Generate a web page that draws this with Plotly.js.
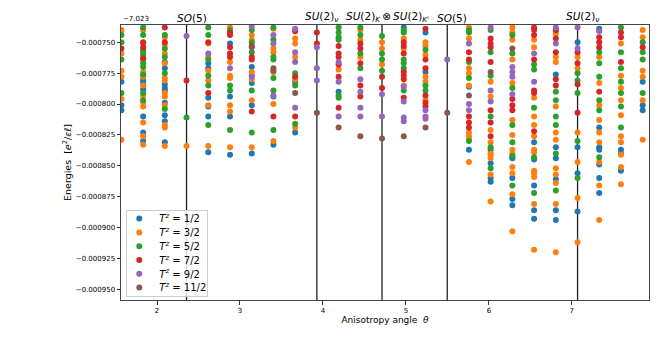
<!DOCTYPE html>
<html>
<head>
<meta charset="utf-8">
<script src="https://cdn.plot.ly/plotly-3.0.1.min.js"></script>
<style>
  body { margin: 0; background: #fff; }
  #canvas_div { width: 665px; height: 351px; }
</style>
</head>
<body>
<div id="canvas_div"></div>
<script>
// Energies are shown relative to an offset of -7.023, in units of 1e-6 e^2/(eps l)
var ENERGY_OFFSET = "\u22127.023";
var MICRO = 1e-6;

// anisotropy angles of the sampled columns
var theta = [1.571, 1.833, 2.094, 2.356, 2.618, 2.880, 3.142, 3.403, 3.665, 3.927,
             4.189, 4.451, 4.712, 4.974, 5.236, 5.498, 5.760, 6.021, 6.283, 6.545,
             6.807, 7.069, 7.330, 7.592, 7.854];

// symmetry points marked by vertical lines
var symTheta = [2.356, 3.927, 4.712, 5.498, 7.069];
var symLabels = [
  "<i>SO</i>(5)",
  "<i>SU</i>(2)<sub><i>\u03bd</i></sub>",
  "<i>SU</i>(2)<sub><i>K</i></sub>\u2009\u2297\u2009<i>SU</i>(2)<sub><i>K'</i></sub>",
  "<i>SO</i>(5)",
  "<i>SU</i>(2)<sub><i>\u03bd</i></sub>"
];

// one list of levels per theta column, for each T^z sector
var tz1_2 = [
  [-782,-801,-805],
  [-778,-781,-783,-788,-810,-823,-830],
  [-766,-771,-784,-787,-789,-799,-809,-814,-831],
  [],
  [-767,-771,-795,-802,-810,-839],
  [-751,-794,-810,-841],
  [-770,-777,-783,-801,-840],
  [-794,-833],
  [-782,-823],
  [],
  [-790],
  [],
  [],
  [-738],
  [-742,-774],
  [],
  [-786,-837],
  [-837,-848,-860,-863],
  [-843,-844,-860,-877,-882],
  [-831,-845,-866,-886,-893],
  [-776,-835,-844,-861,-886,-894],
  [-750,-835,-856,-887],
  [-739,-819,-835,-837,-849,-860,-872],
  [-837,-840,-854],
  [-782,-801,-805]
];
var tz3_2 = [
  [-740,-759,-773,-778,-796,-829],
  [-740,-751,-774,-778,-785,-793,-799,-802,-815,-826,-833],
  [-746,-752,-759,-767,-779,-781,-791,-794,-801,-817,-819,-834],
  [-834],
  [-751,-762,-773,-781,-801,-834],
  [-738,-766,-777,-779,-801,-806,-835],
  [-744,-748,-774,-780,-797,-835],
  [-739,-755,-758,-774,-800,-830],
  [-747,-751,-762,-780,-819],
  [],
  [-772],
  [-740,-748,-762],
  [-750,-755,-768],
  [-747,-755,-785],
  [-750,-753,-760,-778,-782,-797],
  [],
  [-738,-747,-771,-775,-785,-823,-826,-829,-847],
  [-782,-794,-821,-831,-840,-841,-844,-857,-879],
  [-738,-742,-748,-764,-783,-813,-825,-837,-840,-851,-856,-873,-903],
  [-748,-754,-795,-810,-817,-826,-837,-839,-854,-856,-859,-881,-918],
  [-743,-762,-766,-802,-823,-829,-852,-857,-864,-881,-920],
  [-762,-771,-823,-847,-876,-912],
  [-762,-783,-801,-813,-823,-831,-847,-866,-894],
  [-751,-777,-787,-797,-809,-826,-831,-841,-851,-865],
  [-740,-746,-773,-778,-797,-829]
];
var tz5_2 = [
  [-744,-750,-764,-791],
  [-738,-744,-756,-758,-760,-764,-767,-770,-776,-791,-797],
  [-744,-755,-762,-775,-804],
  [-811],
  [-738,-744,-764,-777,-785,-817],
  [-740,-785,-789,-821],
  [-740,-750,-758,-789,-823],
  [-738,-748,-762,-764,-779,-789,-821],
  [-775,-785,-816],
  [],
  [-738,-742,-746,-748,-793,-795],
  [-738,-744,-759,-771],
  [-745,-759,-764,-773],
  [-740,-742,-764,-767,-771,-789],
  [-756,-785,-789],
  [],
  [-740,-742,-766,-779,-830],
  [-740,-758,-777,-810,-835,-852],
  [-744,-759,-787,-817,-831,-842,-866],
  [-768,-772,-803,-843,-872],
  [-740,-790,-797,-810,-817,-840,-870],
  [-775,-781,-791,-830,-860],
  [-758,-767,-778,-797,-805,-843],
  [-738,-758,-771,-782,-791,-802,-819],
  [-750,-758,-764,-791]
];
var tz7_2 = [
  [-755],
  [-750,-754,-763],
  [-738,-750],
  [-781],
  [-750,-791],
  [-742,-744,-754,-759,-762],
  [-753,-762,-764,-806],
  [-810],
  [-741,-778,-810],
  [-742,-751],
  [-753,-759,-762,-768,-778,-803],
  [-751,-755,-767,-785,-794],
  [-778,-787],
  [-750,-753,-759,-774,-777,-780,-795],
  [-739,-764,-771,-793,-799,-802],
  [],
  [-758,-764,-810,-815,-819],
  [-747,-751,-754,-766,-805,-815,-826],
  [-796,-801,-805],
  [-738,-740,-744,-764,-789,-791,-822],
  [-740,-747,-758,-780,-785],
  [-758,-767,-784,-807],
  [-746,-750,-754,-790],
  [-742,-746,-766],
  [-754]
];
var tz9_2 = [
  [], [], [], [-745], [-759], [-771], [-737,-778], [-744,-751,-793],
  [-739,-758,-766,-803], [-754,-771,-781], [-766,-782,-810],
  [-780,-790,-803,-810], [-792,-810], [-786,-798,-811,-814],
  [-805,-810,-812], [-764], [-751,-800,-805], [-738,-789,-798],
  [-770,-774,-778,-792], [-759,-782], [-738,-751], [-738,-755],
  [-741], [], []
];
var tz11_2 = [
  [], [], [], [], [], [], [-754], [-771,-773], [-791], [-807], [-819],
  [-826], [-828], [-826], [-819], [-807], [-793], [-774], [-755],
  [], [], [], [], [], []
];

var seriesNames = ["1/2", "3/2", "5/2", "7/2", "9/2", "11/2"];
var seriesLevels = [tz1_2, tz3_2, tz5_2, tz7_2, tz9_2, tz11_2];
var colors = ["#1f77b4", "#ff7f0e", "#2ca02c", "#d62728", "#9467bd", "#8c564b"];

var font = "DejaVu Sans, sans-serif";

var data = [];
for (var s = 0; s < seriesLevels.length; s++) {
  var x = [];
  var y = [];
  for (var k = 0; k < theta.length; k++) {
    var col = seriesLevels[s][k];
    for (var j = 0; j < col.length; j++) {
      x.push(theta[k]);
      y.push(col[j] * MICRO);
    }
  }
  data.push({
    x: x,
    y: y,
    type: "scatter",
    mode: "markers",
    name: "<i>T</i><sup><i>z</i></sup> = " + seriesNames[s],
    marker: {color: colors[s], size: 6},
    cliponaxis: true,
    hoverinfo: "x+y+name"
  });
}

var shapes = symTheta.map(function(t) {
  return {
    type: "line", xref: "x", yref: "paper",
    x0: t, x1: t, y0: 0, y1: 1,
    line: {color: "#222", width: 1.3},
    layer: "below"
  };
});

var annotations = symTheta.map(function(t, i) {
  return {
    x: t, xref: "x", y: 1, yref: "paper",
    xanchor: "center", yanchor: "bottom", yshift: -1, xshift: 5,
    text: symLabels[i], showarrow: false,
    font: {family: font, size: 10.5, color: "#000"}
  };
});
annotations.push({
  x: 0, xref: "paper", y: 1, yref: "paper",
  xanchor: "left", yanchor: "bottom", yshift: 0,
  text: ENERGY_OFFSET, showarrow: false,
  font: {family: font, size: 7, color: "#000"}
});

var layout = {
  width: 665,
  height: 351,
  margin: {l: 121, r: 16, t: 25, b: 51},
  paper_bgcolor: "#fff",
  plot_bgcolor: "#fff",
  font: {family: font, color: "#000"},
  showlegend: true,
  legend: {
    x: 0.01, y: 0.327, xanchor: "left", yanchor: "top",
    bgcolor: "rgba(255,255,255,0.85)",
    bordercolor: "#ccc", borderwidth: 1,
    font: {family: font, size: 10},
    tracegroupgap: 0
  },
  xaxis: {
    range: [1.566, 7.93],
    tickvals: [2, 3, 4, 5, 6, 7],
    ticks: "outside", ticklen: 3.5, tickwidth: 0.8, tickcolor: "#000",
    tickfont: {family: font, size: 7},
    showgrid: false, zeroline: false,
    showline: true, mirror: true, linecolor: "#444", linewidth: 1,
    title: {text: "Anisotropy angle  <i>\u03b8</i>", font: {family: font, size: 9}, standoff: 1}
  },
  yaxis: {
    range: [-0.0009587, -0.000736],
    tickvals: [-0.00075, -0.000775, -0.0008, -0.000825, -0.00085, -0.000875, -0.0009, -0.000925, -0.00095],
    tickformat: ".6f",
    ticks: "outside", ticklen: 3.5, tickwidth: 0.8, tickcolor: "#000",
    tickfont: {family: font, size: 7},
    showgrid: false, zeroline: false,
    showline: true, mirror: true, linecolor: "#444", linewidth: 1,
    title: {text: "Energies  [<i>e</i><sup>2</sup>/<i>\u03b5\u2113</i>]", font: {family: font, size: 9.5}, standoff: 2}
  },
  shapes: shapes,
  annotations: annotations
};

function compactLegend(gd, rowHeight, firstRow, dx, trimWidth) {
  // plotly keeps legend rows at least 19px tall; matplotlib packs them tighter
  var items = gd.querySelectorAll(".legend .traces");
  items.forEach(function(el, i) {
    var m = /translate\(([^,]+),\s*([^)]+)\)/.exec(el.getAttribute("transform"));
    if (!m) return;
    var y1 = firstRow + i * rowHeight;
    el.setAttribute("transform", "translate(" + (parseFloat(m[1]) + dx) + "," + y1 + ")");
  });
  var bg = gd.querySelector(".legend .bg");
  if (bg) {
    bg.setAttribute("height", items.length * rowHeight + 3);
    bg.setAttribute("width", parseFloat(bg.getAttribute("width")) - trimWidth);
  }
}

var gd = document.getElementById("canvas_div");
Plotly.newPlot(gd, data, layout, {displayModeBar: false, staticPlot: true}).then(function() {
  compactLegend(gd, 13.8, 8.5, -8, 12);
});
</script>
</body>
</html>
